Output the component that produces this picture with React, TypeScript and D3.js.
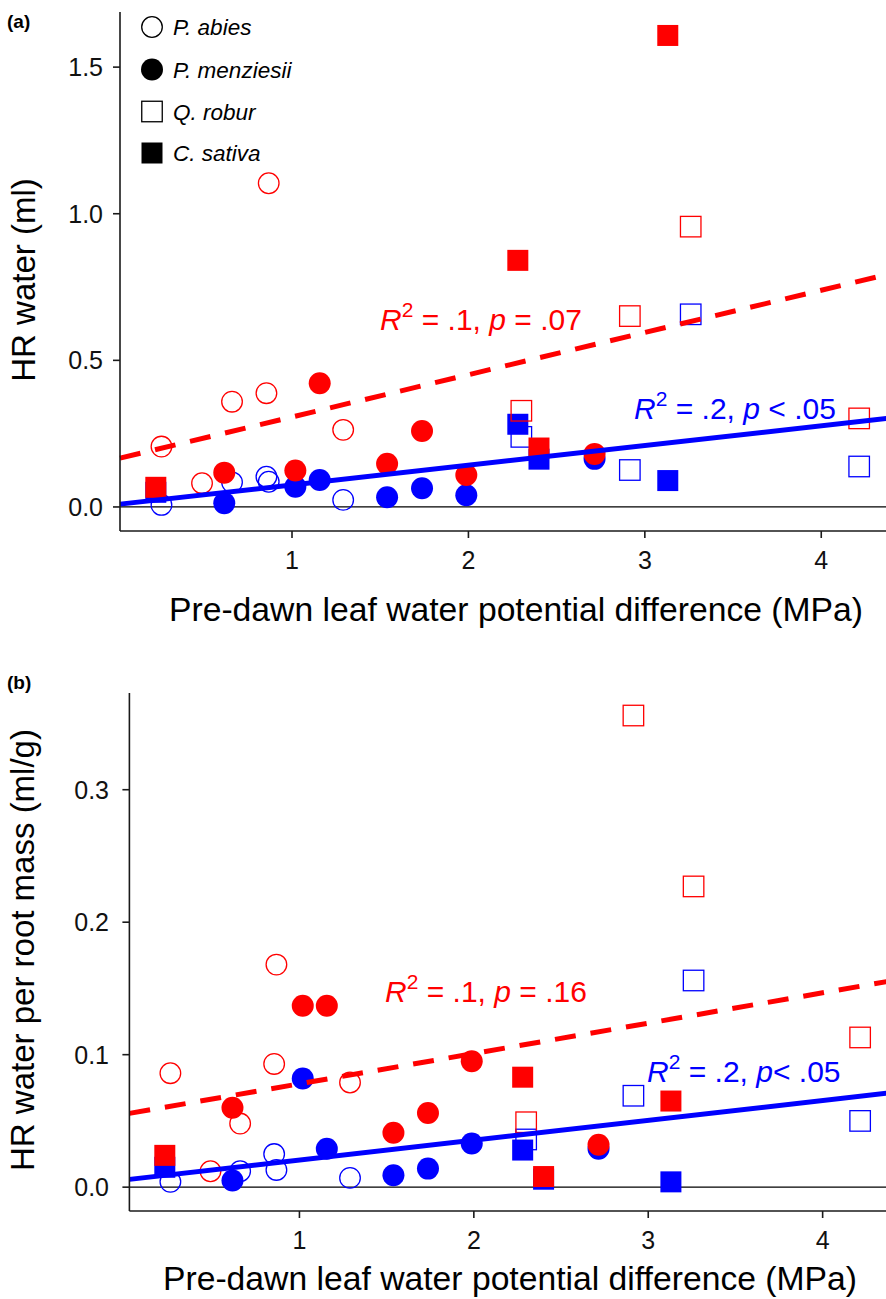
import React from "react";
import * as d3 from "d3";

// ---------- data ----------
const speciesNames = ["P. abies", "P. menziesii", "Q. robur", "C. sativa"];
const speciesShapes = ["circle", "circle", "square", "square"];
const speciesFilled = [false, true, false, true];

const abiesX = [0.26, 0.49, 0.66, 0.855, 0.868, 1.29];
const abiesRedA = [0.206, 0.081, 0.359, 0.388, 1.104, 0.263];
const abiesBlueA = [0.007, null, 0.084, 0.103, 0.086, 0.024];
const abiesRedB = [0.086, 0.012, 0.048, 0.093, 0.168, 0.079];
const abiesBlueB = [0.004, null, 0.012, 0.025, 0.013, 0.007];

const menziesiiX = [0.616, 1.019, 1.157, 1.539, 1.737, 1.988, 2.715];
const menziesiiRedA = [0.117, 0.124, 0.422, 0.147, 0.259, 0.109, 0.181];
const menziesiiBlueA = [0.013, 0.069, 0.092, 0.033, 0.064, 0.04, 0.164];
const menziesiiRedB = [0.06, 0.137, 0.137, 0.041, 0.056, 0.095, 0.032];
const menziesiiBlueB = [0.005, 0.082, 0.029, 0.009, 0.014, 0.033, 0.029];

const roburX = [2.3, 2.915, 3.26, 4.215];
const roburRedA = [0.328, 0.651, 0.956, 0.302];
const roburBlueA = [0.239, 0.126, 0.657, 0.138];
const roburRedB = [0.049, 0.356, 0.227, 0.113];
const roburBlueB = [0.036, 0.069, 0.156, 0.05];

const sativaX = [0.228, 2.28, 2.4, 3.13];
const sativaRedA = [0.067, 0.841, 0.201, 1.608];
const sativaBlueA = [0.05, 0.282, 0.163, 0.09];
const sativaRedB = [0.024, 0.083, 0.008, 0.065];
const sativaBlueB = [0.015, 0.028, 0.006, 0.004];

// regression fits: [intercept, slope]
const fitRedA = [0.163, 0.144];
const fitBlueA = [0.008, 0.0672];
const fitRedB = [0.0551, 0.0229];
const fitBlueB = [0.0055, 0.01497];

const xTicks = [1, 2, 3, 4];
const yTicksA = [0, 0.5, 1.0, 1.5];
const yTickLabelsA = ["0.0", "0.5", "1.0", "1.5"];
const yTicksB = [0, 0.1, 0.2, 0.3];
const yTickLabelsB = ["0.0", "0.1", "0.2", "0.3"];

const RED = "#FF0000";
const BLUE = "#0000FF";
const AXIS = "#1a1a1a";
const FONT = "'Liberation Sans', Arial, Helvetica, sans-serif";

const speciesX = [abiesX, menziesiiX, roburX, sativaX];

function Marker({ cx, cy, shape, filled, color }: any) {
  if (shape === "circle") {
    return filled ? (
      <circle cx={cx} cy={cy} r={11} fill={color} />
    ) : (
      <circle cx={cx} cy={cy} r={10.3} fill="none" stroke={color} strokeWidth={1.3} />
    );
  }
  const s = filled ? 21 : 20.5;
  return filled ? (
    <rect x={cx - s / 2} y={cy - s / 2} width={s} height={s} fill={color} />
  ) : (
    <rect x={cx - s / 2} y={cy - s / 2} width={s} height={s} fill="none" stroke={color} strokeWidth={1.3} />
  );
}

function Annotation({ x, y, color, rest, pRest }: any) {
  return (
    <text x={x} y={y} fill={color} fontSize={30} style={{ whiteSpace: "pre" }}>
      <tspan fontStyle="italic">R</tspan>
      <tspan dy={-13} fontSize={21}>2</tspan>
      <tspan dy={13}>{rest}</tspan>
      <tspan fontStyle="italic">p</tspan>
      <tspan>{pRest}</tspan>
    </text>
  );
}

function Panel({ cfg }: { cfg: any }) {
  const x = d3.scaleLinear().domain([0.025, 4.435]).range(cfg.xRange);
  const y = d3.scaleLinear().domain(cfg.yDomain).range(cfg.yRange);
  const [x0, x1] = cfg.xRange;
  const [yb, yt] = cfg.yRange;
  const lineFor = (f: number[]) =>
    d3
      .line<number>()
      .x((d) => x(d))
      .y((d) => y(f[0] + f[1] * d))([0.025, 4.435]) as string;

  const pts = (vals: (number | null)[][], color: string) =>
    speciesX.map((xs, si) =>
      xs.map((xv, i) => {
        const v = vals[si][i];
        if (v === null || v === undefined) return null;
        return (
          <Marker
            key={color + si + "-" + i}
            cx={x(xv)}
            cy={y(v)}
            shape={speciesShapes[si]}
            filled={speciesFilled[si]}
            color={color}
          />
        );
      })
    );

  return (
    <g>
      <line x1={x0} x2={x1} y1={y(0)} y2={y(0)} stroke="#000" strokeWidth={1.3} />
      {pts(cfg.blue, BLUE)}
      {pts(cfg.red, RED)}
      <path d={lineFor(cfg.fitBlue)} stroke={BLUE} strokeWidth={5} fill="none" />
      <path d={lineFor(cfg.fitRed)} stroke={RED} strokeWidth={5} fill="none" strokeDasharray="21 15" />
      <line x1={x0} x2={x0} y1={yt} y2={yb} stroke={AXIS} strokeWidth={1.6} />
      <line x1={x0} x2={x1} y1={yb} y2={yb} stroke={AXIS} strokeWidth={1.6} />
      {cfg.yTicks.map((t: number, i: number) => (
        <g key={"yt" + i}>
          <line x1={x0 - 7} x2={x0} y1={y(t)} y2={y(t)} stroke={AXIS} strokeWidth={1.6} />
          <text x={cfg.yLabelEnd} y={y(t)} dy="0.36em" textAnchor="end" fontSize={25} fill="#111">
            {cfg.yTickLabels[i]}
          </text>
        </g>
      ))}
      {xTicks.map((t, i) => (
        <g key={"xt" + i}>
          <line x1={x(t)} x2={x(t)} y1={yb} y2={yb + 7} stroke={AXIS} strokeWidth={1.6} />
          <text x={x(t)} y={yb + 38} textAnchor="middle" fontSize={25} fill="#111">
            {String(t)}
          </text>
        </g>
      ))}
      <text x={cfg.xTitleX} y={yb + cfg.xTitleOff} textAnchor="middle" fontSize={33.7} fill="#000">
        Pre-dawn leaf water potential difference (MPa)
      </text>
      <text
        transform={`translate(${cfg.yTitleX},${cfg.yTitleY}) rotate(-90)`}
        textAnchor="middle"
        fontSize={33}
        fill="#000"
      >
        {cfg.yTitle}
      </text>
      <text x={7} y={cfg.labelY} fontSize={19} fontWeight="bold" fill="#000">
        {cfg.label}
      </text>
      <Annotation x={cfg.annRed.x} y={cfg.annRed.y} color={RED} rest={cfg.annRed.rest} pRest={cfg.annRed.p} />
      <Annotation x={cfg.annBlue.x} y={cfg.annBlue.y} color={BLUE} rest={cfg.annBlue.rest} pRest={cfg.annBlue.p} />
    </g>
  );
}

const panelA = {
  label: "(a)",
  xRange: [120, 898],
  yDomain: [-0.082, 1.688],
  yRange: [531, 12],
  yTicks: yTicksA,
  yTickLabels: yTickLabelsA,
  yLabelEnd: 103,
  red: [abiesRedA, menziesiiRedA, roburRedA, sativaRedA],
  blue: [abiesBlueA, menziesiiBlueA, roburBlueA, sativaBlueA],
  fitRed: fitRedA,
  fitBlue: fitBlueA,
  yTitle: "HR water (ml)",
  yTitleX: 35,
  yTitleY: 280,
  xTitleX: 516,
  xTitleOff: 90,
  labelY: 28,
  annRed: { x: 380, y: 330, rest: " = .1, ", p: " = .07" },
  annBlue: { x: 634, y: 419, rest: " = .2, ", p: " < .05" },
};

const panelB = {
  label: "(b)",
  xRange: [129.4, 898.5],
  yDomain: [-0.018, 0.373],
  yRange: [1211, 693],
  yTicks: yTicksB,
  yTickLabels: yTickLabelsB,
  yLabelEnd: 109,
  red: [abiesRedB, menziesiiRedB, roburRedB, sativaRedB],
  blue: [abiesBlueB, menziesiiBlueB, roburBlueB, sativaBlueB],
  fitRed: fitRedB,
  fitBlue: fitBlueB,
  yTitle: "HR water per root mass (ml/g)",
  yTitleX: 34,
  yTitleY: 950,
  xTitleX: 510,
  xTitleOff: 79,
  labelY: 689,
  annRed: { x: 385, y: 1002, rest: " = .1, ", p: " = .16" },
  annBlue: { x: 647, y: 1082, rest: " = .2, ", p: "< .05" },
};

const legendY = [27, 69.5, 111.5, 153];

export default function App() {
  return (
    <svg
      width={886}
      height={1299}
      style={{ position: "absolute", left: 0, top: 0, background: "#fff" }}
      fontFamily={FONT}
    >
      <rect x={0} y={0} width={886} height={1299} fill="#fff" />
      <Panel cfg={panelA} />
      <Panel cfg={panelB} />
      {speciesNames.map((n, i) => (
        <g key={n}>
          <Marker cx={152} cy={legendY[i]} shape={speciesShapes[i]} filled={speciesFilled[i]} color="#000" />
          <text x={173} y={legendY[i]} dy="0.36em" fontSize={22.5} fontStyle="italic" fill="#000">
            {n}
          </text>
        </g>
      ))}
    </svg>
  );
}
